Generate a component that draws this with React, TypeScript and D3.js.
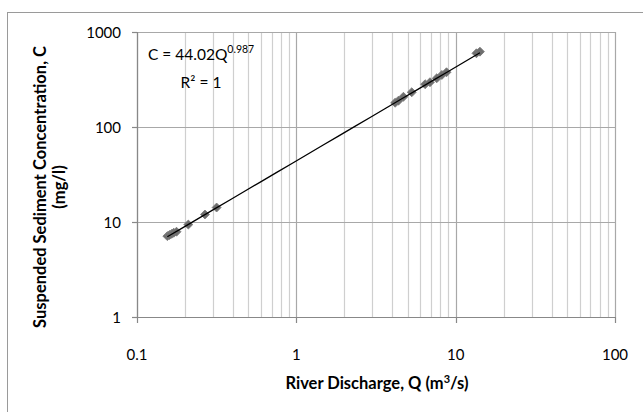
import React from "react";
import * as d3 from "d3";

const discharge = [0.155, 0.16, 0.165, 0.17, 0.177, 0.21, 0.267, 0.316, 4.17, 4.37, 4.7, 5.3, 6.43, 6.9, 7.61, 8.19, 8.76, 13.5, 14.2];
const concentration = [7.1, 7.3, 7.5, 7.7, 7.9, 9.4, 12.0, 14.2, 180, 189, 208, 232, 282, 296, 326, 353, 377, 597, 621];
const xTicks = [0.1, 1, 10, 100];
const yTicks = [1, 10, 100, 1000];
const xTickLabels = ["0.1", "1", "10", "100"];
const yTickLabels = ["1", "10", "100", "1000"];
const coefA = 44.02;
const expB = 0.987;

const W = 643;
const H = 412;
const FONT = "Lato, 'Open Sans', sans-serif";

export default function App() {
  const x = d3.scaleLog().domain([0.1, 100]).range([137, 615]);
  const y = d3.scaleLog().domain([1, 1000]).range([317, 32]);

  const minors: number[] = [];
  for (const d of [0.1, 1, 10]) for (let k = 2; k <= 9; k++) minors.push(d * k);

  const qMin = d3.min(discharge) as number;
  const qMax = d3.max(discharge) as number;
  const trend = d3.range(0, 21).map((i) => {
    const q = qMin * Math.pow(qMax / qMin, i / 20);
    return [q, coefA * Math.pow(q, expB)] as [number, number];
  });
  const line = d3.line<[number, number]>().x((d) => x(d[0])).y((d) => y(d[1]));
  const diamond = d3.symbol().type(d3.symbolSquare).size(40)();

  const [x0, x1] = x.range();
  const [y0, y1] = y.range();

  return (
    <svg width={W} height={H} style={{ position: "absolute", left: 0, top: 0, background: "#fff" }} fontFamily={FONT}>
      <rect x={7.5} y={12.5} width={W + 20} height={H + 20} fill="#fff" stroke="#9a9a9a" strokeWidth={1} />
      {minors.map((m) => (
        <line key={"mn" + m} x1={Math.round(x(m)) + 0.5} x2={Math.round(x(m)) + 0.5} y1={y1} y2={y0} stroke="#cfcfcf" strokeWidth={1.2} />
      ))}
      {xTicks.map((t) => (
        <line key={"vx" + t} x1={Math.round(x(t)) + 0.5} x2={Math.round(x(t)) + 0.5} y1={y1} y2={y0} stroke="#a8a8a8" strokeWidth={1.2} />
      ))}
      {yTicks.map((t) => (
        <line key={"hy" + t} x1={x0} x2={x1} y1={Math.round(y(t)) + 0.5} y2={Math.round(y(t)) + 0.5} stroke="#a8a8a8" strokeWidth={1.2} />
      ))}
      <line x1={x0 + 0.5} x2={x0 + 0.5} y1={y1} y2={y0 + 0.5} stroke="#888" strokeWidth={1.2} />
      <line x1={x0} x2={x1} y1={y0 + 0.5} y2={y0 + 0.5} stroke="#888" strokeWidth={1.2} />
      {xTicks.map((t) => (
        <line key={"xt" + t} x1={Math.round(x(t)) + 0.5} x2={Math.round(x(t)) + 0.5} y1={y0} y2={y0 + 6} stroke="#888" strokeWidth={1.2} />
      ))}
      {yTicks.map((t) => (
        <line key={"yt" + t} x1={x0 - 5} x2={x0} y1={Math.round(y(t)) + 0.5} y2={Math.round(y(t)) + 0.5} stroke="#888" strokeWidth={1.2} />
      ))}
      {xTicks.map((t, i) => (
        <text key={"xl" + t} x={x(t)} y={359.5} textAnchor="middle" fontSize={15} fill="#000">{xTickLabels[i]}</text>
      ))}
      {yTicks.map((t, i) => (
        <text key={"yl" + t} x={121} y={y(t) + 5.5} textAnchor="end" fontSize={15} fill="#000">{yTickLabels[i]}</text>
      ))}
      {discharge.map((q, i) => (
        <path key={"p" + i} d={diamond as string} transform={`translate(${x(q)},${y(concentration[i])}) rotate(45)`} fill="#6e6e6e" stroke="#7a7a7a" strokeWidth={0.8} />
      ))}
      <path d={line(trend) as string} fill="none" stroke="#000" strokeWidth={1.3} />
      <text x={148} y={60} fontSize={15.5} fill="#000">
        C = 44.02Q<tspan fontSize={10.5} dy={-7}>0.987</tspan>
      </text>
      <text x={201} y={88} fontSize={15.5} fill="#000" textAnchor="middle">
        R² = 1
      </text>
      <text x={377} y={389} textAnchor="middle" fontSize={16.5} fontWeight="bold" fill="#000">
        River Discharge, Q (m<tspan fontSize={11} dy={-6}>3</tspan><tspan dy={6}>/s)</tspan>
      </text>
      <text transform="translate(46,187) rotate(-90)" textAnchor="middle" fontSize={16.5} fontWeight="bold" fill="#000">
        Suspended Sediment Concentration, C
      </text>
      <text transform="translate(65,187) rotate(-90)" textAnchor="middle" fontSize={16.5} fontWeight="bold" fill="#000">
        (mg/l)
      </text>
    </svg>
  );
}
